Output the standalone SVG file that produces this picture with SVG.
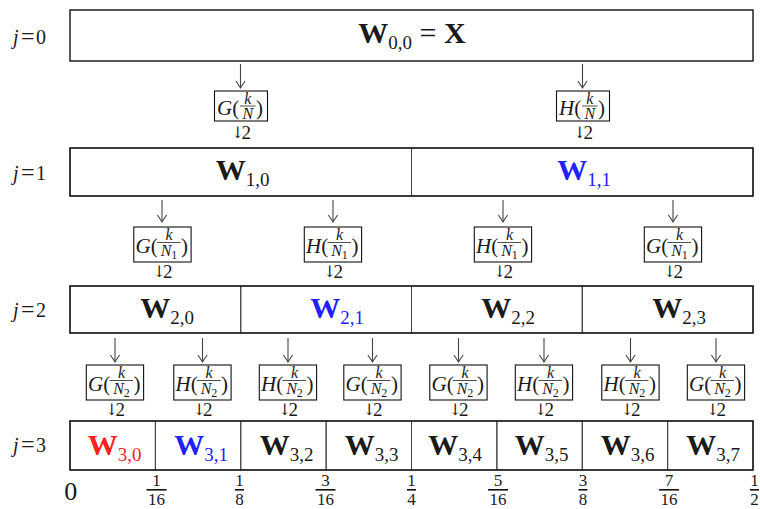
<svg xmlns="http://www.w3.org/2000/svg" width="760" height="509" viewBox="0 0 760 509">
<style>
.frame{fill:none;stroke:#111;stroke-width:1.4}
.cell{fill:none;stroke:#444;stroke-width:1}
.w{font-size:30px;font-weight:bold;text-anchor:middle}
.sub{font-size:19px;font-weight:normal}
.lab{font-size:20px}
.it{font-style:italic}
.fb{fill:#fff;stroke:#111;stroke-width:1.1}
.fn{font-size:21px}
.fk{font-size:16px;text-anchor:middle}
.fs{font-size:12px}
.fbar{stroke:#222;stroke-width:0.8}
.dn{font-size:16px;text-anchor:middle;font-family:'DejaVu Serif','DejaVu Sans',serif;fill:#1a1a1a;font-variant-emoji:text}
.d2{font-size:19px}
.arr{stroke:#444;stroke-width:1.1;fill:none;marker-end:url(#ah)}
.num{font-size:17px;text-anchor:middle}
.bar{stroke:#111;stroke-width:1.6}
.blue{fill:#2020ff}
.red{fill:#ff2020}
</style>
<defs>
<marker id="ah" markerUnits="userSpaceOnUse" markerWidth="10" markerHeight="12" viewBox="-9 -6 10 12" refX="0" refY="0" orient="auto">
<path d="M-7,-4.6 Q-2,-1.2 0,0 Q-2,1.2 -7,4.6" fill="none" stroke="#444" stroke-width="1.1"/>
</marker>
<g id="fGN" font-family="'Liberation Serif',serif" fill="#1a1a1a">
<rect class="fb" x="-26.5" y="0" width="53" height="30"/>
<text class="fn" x="-24" y="24"><tspan class="it">G</tspan>(</text>
<text class="fk" x="6.8" y="12.5"><tspan class="it">k</tspan></text>
<line class="fbar" x1="-1" y1="15" x2="14.5" y2="15"/>
<text class="fk" x="6.8" y="27.5"><tspan class="it">N</tspan></text>
<text class="fn" x="15" y="24">)</text>
<text class="dn" x="-3.25" y="47">↓︎</text><text class="d2" x="0.5" y="48">2</text>
</g>
<g id="fHN" font-family="'Liberation Serif',serif" fill="#1a1a1a">
<rect class="fb" x="-26.5" y="0" width="53" height="30"/>
<text class="fn" x="-24" y="24"><tspan class="it">H</tspan>(</text>
<text class="fk" x="6.8" y="12.5"><tspan class="it">k</tspan></text>
<line class="fbar" x1="-1" y1="15" x2="14.5" y2="15"/>
<text class="fk" x="6.8" y="27.5"><tspan class="it">N</tspan></text>
<text class="fn" x="15" y="24">)</text>
<text class="dn" x="-3.25" y="47">↓︎</text><text class="d2" x="0.5" y="48">2</text>
</g>
<g id="fGN1" font-family="'Liberation Serif',serif" fill="#1a1a1a">
<rect class="fb" x="-28.7" y="0" width="57.3" height="35"/>
<text class="fn" x="-27" y="25.5"><tspan class="it">G</tspan>(</text>
<text class="fk" x="6.5" y="13"><tspan class="it">k</tspan></text>
<line class="fbar" x1="-5.5" y1="15.5" x2="18" y2="15.5"/>
<text class="fk" x="6.5" y="28.5"><tspan class="it">N</tspan><tspan class="fs" dy="3">1</tspan></text>
<text class="fn" x="18.5" y="25.5">)</text>
<text class="dn" x="-3.25" y="50">↓︎</text><text class="d2" x="0.5" y="51">2</text>
</g>
<g id="fHN1" font-family="'Liberation Serif',serif" fill="#1a1a1a">
<rect class="fb" x="-28.7" y="0" width="57.3" height="35"/>
<text class="fn" x="-27" y="25.5"><tspan class="it">H</tspan>(</text>
<text class="fk" x="6.5" y="13"><tspan class="it">k</tspan></text>
<line class="fbar" x1="-5.5" y1="15.5" x2="18" y2="15.5"/>
<text class="fk" x="6.5" y="28.5"><tspan class="it">N</tspan><tspan class="fs" dy="3">1</tspan></text>
<text class="fn" x="18.5" y="25.5">)</text>
<text class="dn" x="-3.25" y="50">↓︎</text><text class="d2" x="0.5" y="51">2</text>
</g>
<g id="fGN2" font-family="'Liberation Serif',serif" fill="#1a1a1a">
<rect class="fb" x="-28.7" y="0" width="57.3" height="35"/>
<text class="fn" x="-27" y="25.5"><tspan class="it">G</tspan>(</text>
<text class="fk" x="6.5" y="13"><tspan class="it">k</tspan></text>
<line class="fbar" x1="-5.5" y1="15.5" x2="18" y2="15.5"/>
<text class="fk" x="6.5" y="28.5"><tspan class="it">N</tspan><tspan class="fs" dy="3">2</tspan></text>
<text class="fn" x="18.5" y="25.5">)</text>
<text class="dn" x="-3.25" y="50">↓︎</text><text class="d2" x="0.5" y="51">2</text>
</g>
<g id="fHN2" font-family="'Liberation Serif',serif" fill="#1a1a1a">
<rect class="fb" x="-28.7" y="0" width="57.3" height="35"/>
<text class="fn" x="-27" y="25.5"><tspan class="it">H</tspan>(</text>
<text class="fk" x="6.5" y="13"><tspan class="it">k</tspan></text>
<line class="fbar" x1="-5.5" y1="15.5" x2="18" y2="15.5"/>
<text class="fk" x="6.5" y="28.5"><tspan class="it">N</tspan><tspan class="fs" dy="3">2</tspan></text>
<text class="fn" x="18.5" y="25.5">)</text>
<text class="dn" x="-3.25" y="50">↓︎</text><text class="d2" x="0.5" y="51">2</text>
</g>
</defs>
<rect width="760" height="509" fill="#fff"/>

<g font-family="'Liberation Serif',serif" fill="#1a1a1a">

<g id="row-labels" class="lab">
<text y="44"><tspan class="it" x="13">j</tspan><tspan x="21" font-size="24">=</tspan><tspan x="36">0</tspan></text>
<text y="180"><tspan class="it" x="13">j</tspan><tspan x="21" font-size="24">=</tspan><tspan x="36">1</tspan></text>
<text y="317"><tspan class="it" x="13">j</tspan><tspan x="21" font-size="24">=</tspan><tspan x="36">2</tspan></text>
<text y="452"><tspan class="it" x="13">j</tspan><tspan x="21" font-size="24">=</tspan><tspan x="36">3</tspan></text>
</g>

<g id="W00">
<rect class="frame" x="70" y="10" width="683" height="51"/>
<text class="w" x="412" y="43">W<tspan class="sub" dy="5.5">0,0</tspan><tspan dy="-5.5" font-weight="normal"> = </tspan>X</text>
</g>

<g id="W10"><rect class="cell" x="70" y="148" width="341.5" height="48"/><text class="w" x="242.5" y="180">W<tspan class="sub" dy="5.5">1,0</tspan></text></g>
<g id="W11"><rect class="cell" x="411.5" y="148" width="341.5" height="48"/><text class="w blue" x="584" y="180">W<tspan class="sub" dy="5.5">1,1</tspan></text></g>
<rect class="frame" x="70" y="148" width="683" height="48"/>

<g id="W20"><rect class="cell" x="70" y="286" width="170.75" height="47"/><text class="w" x="167" y="318">W<tspan class="sub" dy="5.5">2,0</tspan></text></g>
<g id="W21"><rect class="cell" x="240.75" y="286" width="170.75" height="47"/><text class="w blue" x="337" y="318">W<tspan class="sub" dy="5.5">2,1</tspan></text></g>
<g id="W22"><rect class="cell" x="411.5" y="286" width="170.75" height="47"/><text class="w" x="508" y="318">W<tspan class="sub" dy="5.5">2,2</tspan></text></g>
<g id="W23"><rect class="cell" x="582.25" y="286" width="170.75" height="47"/><text class="w" x="679" y="318">W<tspan class="sub" dy="5.5">2,3</tspan></text></g>
<rect class="frame" x="70" y="286" width="683" height="47"/>

<g id="W30"><rect class="cell" x="70" y="421" width="85.375" height="49"/><text class="w red" x="114.5" y="455">W<tspan class="sub" dy="5.5">3,0</tspan></text></g>
<g id="W31"><rect class="cell" x="155.375" y="421" width="85.375" height="49"/><text class="w blue" x="201" y="455">W<tspan class="sub" dy="5.5">3,1</tspan></text></g>
<g id="W32"><rect class="cell" x="240.75" y="421" width="85.375" height="49"/><text class="w" x="286.5" y="455">W<tspan class="sub" dy="5.5">3,2</tspan></text></g>
<g id="W33"><rect class="cell" x="326.125" y="421" width="85.375" height="49"/><text class="w" x="371.5" y="455">W<tspan class="sub" dy="5.5">3,3</tspan></text></g>
<g id="W34"><rect class="cell" x="411.5" y="421" width="85.375" height="49"/><text class="w" x="455" y="455">W<tspan class="sub" dy="5.5">3,4</tspan></text></g>
<g id="W35"><rect class="cell" x="496.875" y="421" width="85.375" height="49"/><text class="w" x="541.5" y="455">W<tspan class="sub" dy="5.5">3,5</tspan></text></g>
<g id="W36"><rect class="cell" x="582.25" y="421" width="85.375" height="49"/><text class="w" x="627.5" y="455">W<tspan class="sub" dy="5.5">3,6</tspan></text></g>
<g id="W37"><rect class="cell" x="667.625" y="421" width="85.375" height="49"/><text class="w" x="713" y="455">W<tspan class="sub" dy="5.5">3,7</tspan></text></g>
<rect class="frame" x="70" y="421" width="683" height="49"/>

<g id="connectors">
<path class="arr" d="M240.5,64V88"/>
<path class="arr" d="M582.5,64V88"/>
<path class="arr" d="M162,200V222"/>
<path class="arr" d="M333,200V222"/>
<path class="arr" d="M503,200V222"/>
<path class="arr" d="M673,200V222"/>
<path class="arr" d="M115,338V362"/>
<path class="arr" d="M202.5,338V362"/>
<path class="arr" d="M288,338V362"/>
<path class="arr" d="M372.5,338V362"/>
<path class="arr" d="M458.5,338V362"/>
<path class="arr" d="M544,338V362"/>
<path class="arr" d="M630.5,338V362"/>
<path class="arr" d="M716,338V362"/>
</g>

<g id="f1-0"><use href="#fGN" x="241" y="91"/></g>
<g id="f1-1"><use href="#fHN" x="583" y="91"/></g>
<g id="f2-0"><use href="#fGN1" x="162.5" y="227"/></g>
<g id="f2-1"><use href="#fHN1" x="333" y="227"/></g>
<g id="f2-2"><use href="#fHN1" x="503" y="227"/></g>
<g id="f2-3"><use href="#fGN1" x="673" y="227"/></g>
<g id="f3-0"><use href="#fGN2" x="115" y="365"/></g>
<g id="f3-1"><use href="#fHN2" x="202.5" y="365"/></g>
<g id="f3-2"><use href="#fHN2" x="288" y="365"/></g>
<g id="f3-3"><use href="#fGN2" x="372.5" y="365"/></g>
<g id="f3-4"><use href="#fGN2" x="458.5" y="365"/></g>
<g id="f3-5"><use href="#fHN2" x="544" y="365"/></g>
<g id="f3-6"><use href="#fHN2" x="630.5" y="365"/></g>
<g id="f3-7"><use href="#fGN2" x="716" y="365"/></g>

<g id="axis">
<text x="70.8" y="500" font-size="26" text-anchor="middle">0</text>
<text class="num" x="156.5" y="486.3">1</text><line class="bar" x1="146.5" y1="489.8" x2="166.5" y2="489.8"/><text class="num" x="156.5" y="505">16</text>
<text class="num" x="239.5" y="486.3">1</text><line class="bar" x1="235" y1="489.8" x2="244" y2="489.8"/><text class="num" x="239.5" y="505">8</text>
<text class="num" x="325.5" y="486.3">3</text><line class="bar" x1="315.5" y1="489.8" x2="335.5" y2="489.8"/><text class="num" x="325.5" y="505">16</text>
<text class="num" x="411.5" y="486.3">1</text><line class="bar" x1="407" y1="489.8" x2="416" y2="489.8"/><text class="num" x="411.5" y="505">4</text>
<text class="num" x="498" y="486.3">5</text><line class="bar" x1="488" y1="489.8" x2="508" y2="489.8"/><text class="num" x="498" y="505">16</text>
<text class="num" x="583" y="486.3">3</text><line class="bar" x1="578.5" y1="489.8" x2="587.5" y2="489.8"/><text class="num" x="583" y="505">8</text>
<text class="num" x="669" y="486.3">7</text><line class="bar" x1="659" y1="489.8" x2="679" y2="489.8"/><text class="num" x="669" y="505">16</text>
<text class="num" x="754.5" y="486.3">1</text><line class="bar" x1="750" y1="489.8" x2="759" y2="489.8"/><text class="num" x="754.5" y="505">2</text>
</g>
</g>
</svg>
